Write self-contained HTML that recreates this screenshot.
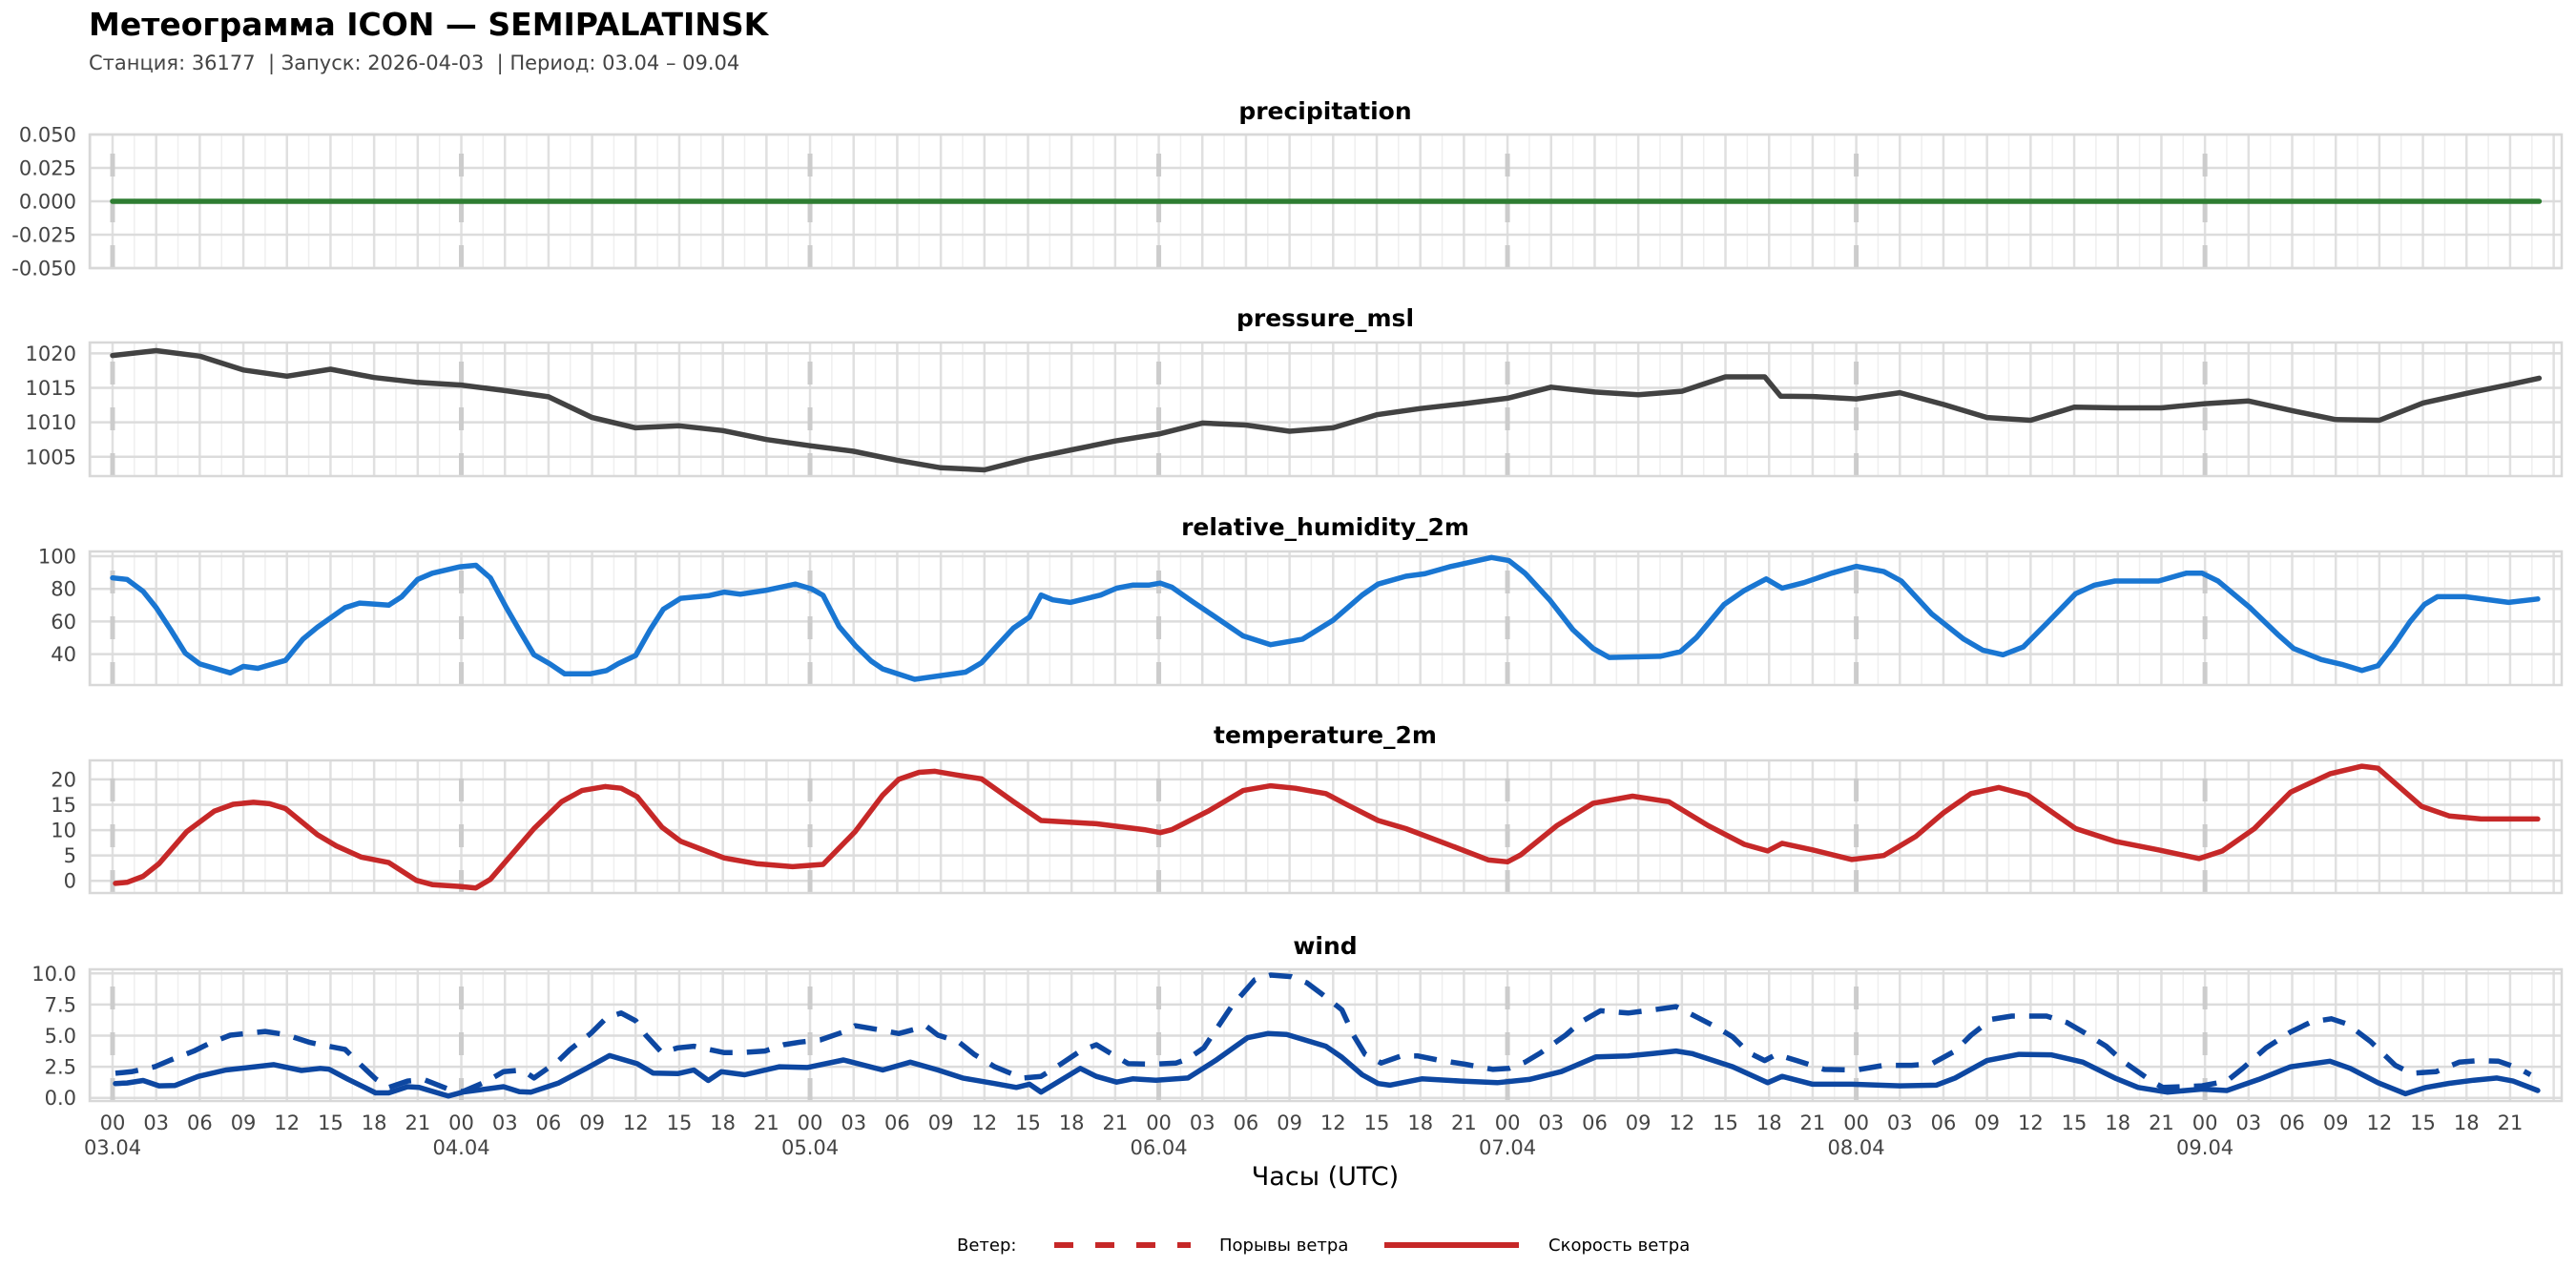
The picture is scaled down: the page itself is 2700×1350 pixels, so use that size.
<!DOCTYPE html>
<html><head><meta charset="utf-8"><title>Метеограмма ICON — SEMIPALATINSK</title>
<style>
html,body{margin:0;padding:0;background:#fff;}
svg{display:block;font-family:"DejaVu Sans","Liberation Sans",sans-serif;}
</style></head>
<body>
<svg id="chart" xmlns="http://www.w3.org/2000/svg" width="2700" height="1350" viewBox="0 0 2700 1350">
<rect x="0" y="0" width="2700" height="1350" fill="#fff"/>
<text x="93" y="37" font-size="33" font-weight="bold" fill="#000">Метеограмма ICON — SEMIPALATINSK</text>
<text x="93" y="73" font-size="21" fill="#444">Станция: 36177&#160; | Запуск: 2026-04-03&#160; | Период: 03.04 – 09.04</text>
<g id="panels"></g>
<g id="xaxis"></g>
<text x="1389" y="1242" font-size="27" fill="#000" text-anchor="middle">Часы (UTC)</text>
<g>
<text x="1003" y="1311" font-size="18" fill="#000">Ветер:</text>
<line x1="1105" y1="1305" x2="1248" y2="1305" stroke="#c62828" stroke-width="6" stroke-dasharray="20 23"/>
<text x="1278" y="1311" font-size="18" fill="#000">Порывы ветра</text>
<line x1="1451" y1="1305" x2="1592" y2="1305" stroke="#c62828" stroke-width="6"/>
<text x="1623" y="1311" font-size="18" fill="#000">Скорость ветра</text>
</g>
</svg>
<script>
// ---- data ----
const precipHours = [0, 167];
const precipValues = [0, 0];
const pressureHours = [0,3,6,9,12,15,18,21,24,27,30,33,36,39,42,45,48,51,54,57,60,63,66,69,72,75,78,81,84,87,90,93,96,99,102,105,108,111,113.7,114.8,117,120,123,126,129,132,135,138,141,144,147,150,153,156,159,162,165,167];
const pressureValues = [1019.7,1020.4,1019.6,1017.6,1016.7,1017.7,1016.5,1015.8,1015.4,1014.6,1013.7,1010.7,1009.2,1009.5,1008.8,1007.5,1006.6,1005.8,1004.5,1003.4,1003.1,1004.7,1006.0,1007.3,1008.3,1009.9,1009.6,1008.7,1009.2,1011.1,1012.0,1012.7,1013.5,1015.1,1014.4,1014.0,1014.5,1016.6,1016.6,1013.8,1013.75,1013.4,1014.3,1012.6,1010.7,1010.3,1012.2,1012.1,1012.1,1012.7,1013.1,1011.7,1010.4,1010.3,1012.8,1014.2,1015.5,1016.4];
const rhHours = [0,1,2.1,3,4,5,6,8.1,9,10,11.9,13.1,14.1,16,17,19,19.9,21,22,23.9,25,26,27.1,28.1,29,30.1,31.1,32.9,34,34.8,36,37,37.9,39.1,41,42.1,43.2,44.9,47,48.1,48.9,50,51.1,52.2,53,55.2,58.7,59.8,60.9,62,63.1,63.9,64.7,65.9,68,69.1,70.2,71.3,72.1,72.9,74.3,75.9,77.8,79.7,81.9,84,86,87.1,89,90.3,92,94.9,96.1,97.2,98.9,100.5,101.9,103,106.5,107.9,109,110.9,112.3,113.8,114.9,116.4,118.3,120,121.9,123.1,125.2,127.4,128.7,130.1,131.5,133.1,135.1,136.4,137.8,140.8,142.7,143.8,144.9,147.1,149,150.1,152,153.4,154.8,155.9,157,158.1,159.1,160,161.9,164.9,166.9];
const rhValues = [86.7,85.8,78.5,68.5,55,40.6,34,28.5,32.5,31.3,36.2,49.2,56.5,68.5,71.3,70,75.2,85.8,89.6,93.5,94.4,86.7,68.5,53,39.6,34,28,28,30,34.2,39.2,55,67.5,74.2,75.8,78,76.7,79,82.9,80,76,57,45.4,35.8,31,24.6,29,34.8,45.4,56,62.7,76.2,73.3,71.7,76.2,80.4,82.3,82.3,83.5,81,72.3,62.7,51.2,45.8,49.2,60.8,76.2,82.9,87.7,89.2,93.5,99.2,97.3,89.6,73.3,55,43.5,38,38.7,41.5,50.2,70.4,79,86.1,80.4,83.8,89.6,93.8,90.6,84.8,64.6,49.2,42.5,39.6,44.4,58.8,77.1,82.3,84.8,84.8,89.6,89.6,84.8,68.5,52.1,43.5,36.7,33.8,30,32.9,45.4,59.8,70.4,75.2,75.2,71.7,73.8];
const tempHours = [0.2,1,2.1,3.2,5.1,7,8.3,9.7,10.8,11.9,14.1,15.4,17.1,19,20.9,22,23.9,25,26,29,30.9,32.3,33.9,35,36.1,37.8,39.1,40.5,42.1,44.3,46.8,48.9,51.1,53,54.1,55.5,56.6,58,59.8,62,63.9,67.7,71,72.1,72.9,75.4,77.8,79.7,81.4,83.5,84.9,87.1,89,91.7,94.7,96,96.9,99.4,101.9,104.6,107.1,109.8,112.3,113.9,114.9,117,119.7,121.9,124.1,126,127.9,129.8,131.8,135.1,137.8,140.8,143.6,145.2,147.4,149.9,152.6,154.8,155.9,158.9,160.8,163,166.9];
const tempValues = [-0.5,-0.3,0.9,3.4,9.7,13.75,15.1,15.5,15.2,14.25,9.1,6.9,4.7,3.6,0.1,-0.75,-1.1,-1.4,0.3,10.3,15.6,17.8,18.6,18.25,16.6,10.6,7.8,6.25,4.5,3.4,2.8,3.25,9.7,16.9,20,21.4,21.6,20.9,20.1,15.6,11.9,11.25,10.1,9.5,10.1,13.75,17.8,18.75,18.25,17.2,15.1,11.9,10.3,7.4,4.1,3.75,5.1,10.9,15.3,16.7,15.6,10.9,7.2,5.9,7.4,6.1,4.2,5,8.75,13.4,17.2,18.4,16.9,10.3,7.8,6.1,4.4,5.9,10.3,17.5,21.1,22.6,22.2,14.7,12.8,12.2,12.2];
const windHours = [0.2,1,2.1,3.2,4.3,5.9,7.8,11.1,13,14.3,14.9,16.2,18.1,19,20.3,21.1,23.1,24.1,26.9,28,28.8,30.7,32.6,34.2,36.1,37.2,38.9,40,41,41.9,43.5,45.9,47.8,50.3,53,54.9,56.8,58.5,60.7,62.2,63.1,63.9,66.6,67.7,69.1,70.2,71.8,74,75.9,78.1,79.5,80.8,83.5,84.6,86,87.1,87.9,90.1,92.8,95.3,97.5,99.7,102.1,104.3,106,107.6,108.7,111.5,113.9,114.9,117,119.7,123,125.5,126.8,129,131.2,133.4,135.6,137.8,139.4,141.4,143.8,145.5,147.7,149.9,152.6,154,155.9,157.8,159.2,160.8,162.5,164.1,165.2,166.9];
const windSpeed = [1.15,1.2,1.4,0.97,1.0,1.73,2.24,2.67,2.2,2.37,2.3,1.5,0.4,0.4,0.9,0.84,0.15,0.46,0.9,0.5,0.46,1.2,2.37,3.4,2.75,2.0,1.95,2.24,1.4,2.1,1.86,2.5,2.44,3.05,2.24,2.87,2.24,1.6,1.15,0.84,1.1,0.46,2.37,1.73,1.27,1.53,1.42,1.6,3.0,4.83,5.17,5.1,4.15,3.26,1.86,1.15,1.02,1.53,1.35,1.22,1.48,2.11,3.3,3.38,3.56,3.77,3.56,2.5,1.22,1.73,1.1,1.1,0.97,1.02,1.6,3.0,3.5,3.46,2.87,1.6,0.84,0.46,0.71,0.59,1.48,2.5,2.95,2.37,1.22,0.33,0.84,1.17,1.42,1.6,1.35,0.59];
const gustHours = [0.2,1.3,2.9,4,5.6,6.7,8.1,10.5,11.9,13.5,14.3,16,17,18.1,19,20.3,21.4,23.1,24.1,25.8,26.9,28.2,29,30.7,31.5,32.9,34,35,36,36.7,37.8,38.9,40,42.1,43.2,44.9,46.2,47.3,48.7,50.3,51.1,53,54.1,56,56.8,58.2,59.3,60.7,62.6,63.9,65.3,66.6,67.7,68.8,69.9,71.6,73.2,74,75.1,75.9,77,78.6,79.7,81.1,82.2,83.5,84.6,85.4,86.2,87.3,88.7,89.8,91.2,93.1,95,96.1,97.2,98.3,100,101,102.4,104.3,106,107.6,108.7,110.4,111.5,112.6,113.7,114.5,115.9,117.8,120,121.9,123.8,125.2,126.8,127.9,129.3,130.7,133.1,134.5,135.8,137.2,138.3,140.3,141.1,143.8,145.5,146.6,148.2,149.9,151.3,152.7,153.8,155.4,157.1,158.2,159.9,161.5,162.9,164.2,165.6,166.4];
const windGust = [1.98,2.1,2.5,3.05,3.77,4.4,5.04,5.34,5.09,4.48,4.27,3.9,2.75,1.53,0.84,1.35,1.48,0.71,0.5,1.35,2.1,2.24,1.6,3.0,3.9,5.17,6.44,6.82,6.2,5.04,3.64,4.02,4.15,3.64,3.64,3.77,4.27,4.48,4.66,5.3,5.8,5.42,5.17,5.75,5.04,4.53,3.5,2.5,1.6,1.73,2.75,3.77,4.27,3.5,2.75,2.7,2.8,3.13,4.02,5.42,7.33,9.49,9.87,9.75,9.24,8.1,7.07,5.04,3.5,2.8,3.38,3.38,3.05,2.7,2.29,2.37,2.87,3.64,5.04,6.06,7.0,6.82,7.07,7.33,6.69,5.67,4.9,3.64,3.0,3.5,3.0,2.29,2.24,2.62,2.62,2.75,3.77,5.04,6.31,6.57,6.57,6.06,5.17,4.15,3.0,1.35,0.84,0.97,1.35,2.37,4.02,5.3,6.1,6.36,5.93,4.53,2.62,1.98,2.1,2.87,3.0,2.95,2.37,1.86];
const yTicksPrecip = [0.05,0.025,0,-0.025,-0.05];
const yTickLabelsPrecip = ["0.050","0.025","0.000","-0.025","-0.050"];
const yTicksPressure = [1005,1010,1015,1020];
const yTicksRH = [40,60,80,100];
const yTicksTemp = [0,5,10,15,20];
const yTicksWind = [0,2.5,5,7.5,10];
const yTickLabelsWind = ["0.0","2.5","5.0","7.5","10.0"];
const hourTickLabels = ["00","03","06","09","12","15","18","21"];
const dayLabels = ["03.04","04.04","05.04","06.04","07.04","08.04","09.04"];

// ---- layout ----
const NS = "http://www.w3.org/2000/svg";
const PL = 94, PR = 2685;
const X0 = 118, HOUR = 15.23;
function xs(h){ return X0 + h*HOUR; }
function mk(tag, attrs, parent){
  const e = document.createElementNS(NS, tag);
  for (const k in attrs) e.setAttribute(k, attrs[k]);
  parent.appendChild(e);
  return e;
}
const panelsG = document.getElementById('panels');
const panels = [
  {name:'precipitation', top:141, bottom:281, min:-0.05, max:0.05, ticks:yTicksPrecip, labels:yTickLabelsPrecip, titleY:125},
  {name:'pressure_msl', top:359, bottom:499, min:1002.2, max:1021.58, ticks:yTicksPressure, labels:yTicksPressure.map(String), titleY:342},
  {name:'relative_humidity_2m', top:578, bottom:718, min:21.1, max:102.9, ticks:yTicksRH, labels:yTicksRH.map(String), titleY:561},
  {name:'temperature_2m', top:797, bottom:936, min:-2.4, max:23.75, ticks:yTicksTemp, labels:yTicksTemp.map(String), titleY:779},
  {name:'wind', top:1016, bottom:1154, min:-0.25, max:10.33, ticks:yTicksWind, labels:yTickLabelsWind, titleY:1000}
];
function ys(p, v){ return p.bottom - (v - p.min)/(p.max - p.min)*(p.bottom - p.top); }
function pts(p, hs, vs){ return hs.map((h,i)=> xs(h).toFixed(1)+','+ys(p,vs[i]).toFixed(1)).join(' '); }

panels.forEach((p, pi) => {
  const g = mk('g', {}, panelsG);
  
  
  const t = mk('text', {x:1389, y:p.titleY, 'font-size':25, 'font-weight':'bold', 'text-anchor':'middle', fill:'#000'}, g);
  t.textContent = p.name;
  
  
  for (let h = -1.5; h <= 168.5; h += 1.5) {
    const x = xs(h);
    if (x < PL || x > PR) continue;
    const major = Math.abs(h/3 - Math.round(h/3)) < 1e-6;
    const l = mk('line', {x1:x, x2:x, y1:p.top, y2:p.bottom, stroke: major ? '#e0e0e0' : '#efefef', 'stroke-width': major ? 2.5 : 1.5}, g);
    
    
  }
  p.ticks.forEach((v, i) => {
    const y = ys(p, v);
    const l = mk('line', {x1:PL, x2:PR, y1:y, y2:y, stroke:'#dcdcdc', 'stroke-width':2.5}, g);
    
    
    const tl = mk('text', {x:80, y:y+7.5, 'font-size':21, fill:'#444', 'text-anchor':'end'}, g);
    tl.textContent = p.labels[i];
    
    
  });
  for (let d = 0; d < 7; d++) {
    const x = xs(d*24);
    const l = mk('line', {x1:x, x2:x, y1:p.bottom, y2:p.top, stroke:'#cccccc', 'stroke-width':5, 'stroke-dasharray':'24 24'}, g);
    
    
  }
  const b = mk('rect', {x:PL, y:p.top, width:PR-PL, height:p.bottom-p.top, fill:'none', stroke:'#d8d8d8', 'stroke-width':2.5}, g);
  
  
  p.g = g;
});

function series(p, hs, vs, color, name, dash){
  const a = {points: pts(p, hs, vs), fill:'none', stroke:color, 'stroke-width':5.5, 'stroke-linejoin':'round', 'stroke-linecap': dash ? 'butt' : 'round'};
  if (dash) a['stroke-dasharray'] = dash;
  const l = mk('polyline', a, p.g);
  
  
}
series(panels[0], precipHours, precipValues, '#2e7d32', 'precipitation-line');
series(panels[1], pressureHours, pressureValues, '#424242', 'pressure-line');
series(panels[2], rhHours, rhValues, '#1976d2', 'humidity-line');
series(panels[3], tempHours, tempValues, '#c62828', 'temperature-line');
series(panels[4], gustHours, windGust, '#0d47a1', 'wind-gust-line', '24 15');
series(panels[4], windHours, windSpeed, '#0d47a1', 'wind-speed-line');

const xa = document.getElementById('xaxis');
for (let d = 0; d < 7; d++) {
  for (let k = 0; k < 8; k++) {
    const h = d*24 + k*3;
    const t = mk('text', {x:xs(h), y:1184, 'font-size':21, fill:'#444', 'text-anchor':'middle'}, xa);
    t.textContent = hourTickLabels[k];
    
    
  }
  const dl = mk('text', {x:xs(d*24), y:1210, 'font-size':21, fill:'#444', 'text-anchor':'middle'}, xa);
  dl.textContent = dayLabels[d];
  
  
}
</script>
</body></html>
